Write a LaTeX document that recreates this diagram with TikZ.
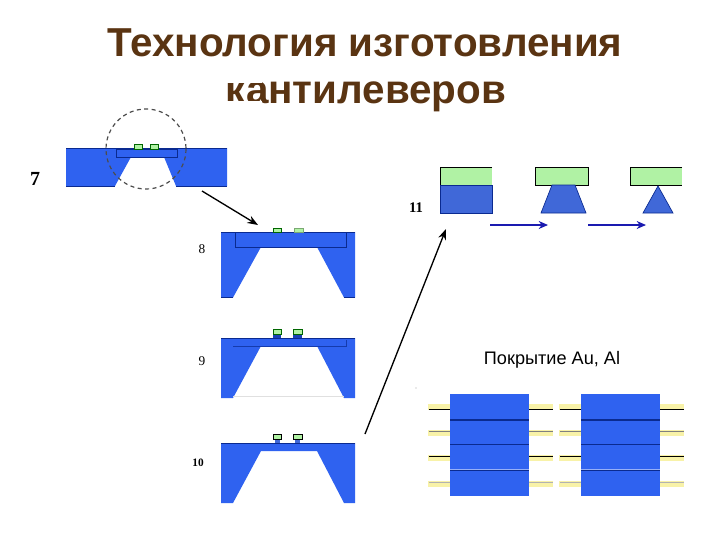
\documentclass[tikz,border=0pt]{standalone}
\usepackage{fontspec}
\setmainfont{Liberation Sans}
\newfontfamily\serifnum{Liberation Serif}
\usetikzlibrary{arrows.meta}
\definecolor{bluefill}{HTML}{2F62F0}
\definecolor{blueedge}{HTML}{0A2A90}
\definecolor{greenfill}{HTML}{B0F2A4}
\definecolor{yellowfill}{HTML}{F8F2A8}
\definecolor{titlecol}{HTML}{5A3412}
\definecolor{arrowblue}{HTML}{1A1AB0}
\definecolor{hatchblue}{HTML}{4068D8}
\tikzset{
  x=0.75pt,y=-0.75pt,
  padgreen/.style={fill=greenfill,draw=black!60!green,line width=0.5pt},
  padhat/.style={fill=greenfill,draw=black,line width=0.7pt},
  smallnum/.style={font=\serifnum\fontsize{10}{11}\selectfont,text=black,inner sep=0pt},
  titletext/.style={font=\bfseries\fontsize{30.3}{32}\selectfont,text=titlecol,inner sep=0pt,anchor=base},
  bigarrow/.style={-{Stealth[length=8pt,width=6pt]},line width=1pt,black},
  bluearrow/.style={-{Stealth[length=7pt,width=6pt]},line width=0.8pt,arrowblue},
}
% #1 top, #2 flat, #3 bottom
\newcommand{\wafer}[3]{%
  \fill[bluefill] (221,#1) -- (355,#1) -- (355,#3) -- (344,#3) -- (317,#2) -- (261,#2) -- (233,#3) -- (221,#3) -- cycle;
  \draw[blueedge,line width=0.7pt] (221,#1) -- (355,#1);}
\begin{document}
\begin{tikzpicture}
\useasboundingbox (0,0) rectangle (720,540);
\fill[white] (0,0) rectangle (720,540);
% title
\node[titletext] (t1) at (365,56) {Технология изготовления};
\node[titletext] (t2) at (366,103) {кантилеверов};
\fill[white] (60,101) rectangle (262,110);
\fill[white] (60,70) rectangle (262,82.5);
% step 7
\fill[bluefill] (66,148) -- (227,148) -- (227,186) -- (176,186) -- (164,157) -- (131,157) -- (115,186) -- (66,186) -- cycle;
\draw[blueedge,line width=0.7pt] (66,148) -- (227,148) (66,186) -- (115,186) (176,186) -- (227,186);
\draw[blueedge,line width=0.7pt] (116,149) rectangle (177,157);
\draw[padgreen] (134,144) rectangle (142,149);
\draw[padgreen] (150,144) rectangle (158,149);
\draw[black!70,line width=0.9pt,dash pattern=on 3pt off 2.6pt] (146,149) circle [radius=40];
\node[font=\serifnum\bfseries\fontsize{15}{16}\selectfont,inner sep=0pt] (n7) at (35,179) {7};
\coordinate (a1s) at (202,191);
\coordinate (a1e) at (258,225);
\draw[bigarrow] (a1s) -- (a1e);
% step 8
\wafer{232}{247}{297.5}
\draw[blueedge,line width=0.5pt] (235,232) -- (235,247) -- (346,247) -- (346,232);
\draw[blueedge,line width=0.7pt] (221,297.5) -- (233,297.5) (344,297.5) -- (355,297.5);
\draw[padgreen] (273,228) rectangle (281,232);
\draw[fill=greenfill,draw=greenfill!70!black,line width=0.3pt] (294,228) rectangle (303,232);
\node[smallnum] (n8) at (202,249) {8};
% step 9
\wafer{338}{346}{398}
\draw[blueedge!70!bluefill,line width=0.5pt] (233,346) -- (346,346) -- (346,340);
\draw[black!12,line width=0.6pt] (233,396.5) -- (344,396.5);
\fill[blueedge!60!bluefill] (273,334) rectangle (281,338);
\fill[blueedge!60!bluefill] (293,334) rectangle (302,338);
\draw[padhat,draw=black!60!green] (273,329) rectangle (281,334);
\draw[padhat,draw=black!60!green] (293,329) rectangle (302,334);
\node[smallnum] (n9) at (202,361) {9};
% step 10
\wafer{443}{451}{503}
\fill[hatchblue] (275,439) rectangle (280,443);
\fill[hatchblue] (295,439) rectangle (300,443);
\draw[padhat] (273,434) rectangle (281,439);
\draw[padhat] (293,434) rectangle (302,439);
\node[font=\serifnum\bfseries\fontsize{8.5}{9}\selectfont,inner sep=0pt] (n10) at (198,463) {10};
% long arrow
\coordinate (a2s) at (365,434);
\coordinate (a2e) at (446,229);
\draw[bigarrow] (a2s) -- (a2e);
% step 11
\node[font=\serifnum\bfseries\fontsize{11}{12}\selectfont,inner sep=0pt] (n11) at (416,208) {11};
\fill[greenfill] (440,167) rectangle (492,185);
\draw[black,line width=0.6pt] (492,167) -- (440,167) -- (440,185) -- (492,185);
\draw[blueedge,line width=0.5pt,fill=hatchblue] (440,185) rectangle (492,213);
\draw[black,line width=0.6pt,fill=greenfill] (535,167) rectangle (588,185);
\draw[blueedge,line width=0.5pt,fill=hatchblue] (552,185) -- (575,185) -- (586,213) -- (541,213) -- cycle;
\fill[greenfill] (630,167) rectangle (682,185);
\draw[black,line width=0.6pt] (682,167) -- (630,167) -- (630,185) -- (682,185);
\draw[blueedge,line width=0.5pt,fill=hatchblue] (658,186) -- (673,213) -- (643,213) -- cycle;
\coordinate (b1s) at (490,225);
\coordinate (b1e) at (548,225);
\coordinate (b2s) at (588,225);
\coordinate (b2e) at (646,225);
\draw[bluearrow] (b1s) -- (b1e);
\draw[bluearrow] (b2s) -- (b2e);
% coating
\node[font=\fontsize{13.6}{15}\selectfont,inner sep=0pt] (cov) at (552,360) {Покрытие Au, Al};
\foreach \cx in {450,581}{
  \foreach \yt/\yb/\yl/\lc in {404/410/409.5/100,430/436/431/50,455/461/456/100,481/487/482/30}{
    \fill[yellowfill] (\cx-22,\yt) rectangle (\cx+103,\yb);
    \draw[black!\lc,line width=0.6pt] (\cx-21,\yl) -- (\cx+103,\yl);
  }
  \fill[bluefill] (\cx,394) rectangle (\cx+79,496);
  \draw[blueedge,line width=0.8pt] (\cx,420) -- (\cx+79,420);
  \draw[blueedge,line width=0.6pt] (\cx,444.5) -- (\cx+79,444.5);
  \draw[white!50!bluefill,line width=0.6pt] (\cx,469) -- (\cx+79,469);
  \draw[blueedge,line width=0.9pt] (\cx,470.5) -- (\cx+79,470.5);
}
\fill[white] (553,400) rectangle (558.5,490);
\fill[black!35] (416,388) circle [radius=0.7];
\end{tikzpicture}
\end{document}
